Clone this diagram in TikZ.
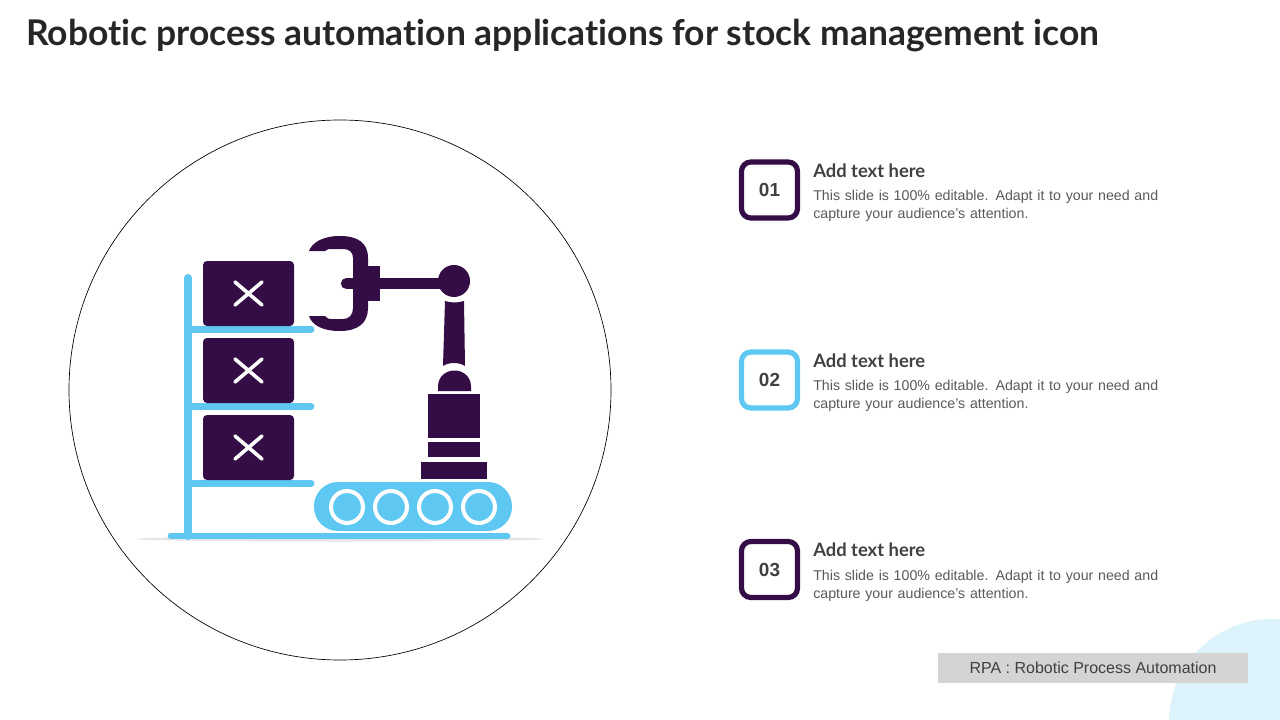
\documentclass[tikz,border=0pt]{standalone}
\usepackage{fontspec}
\setmainfont{Liberation Sans}
\newfontfamily\headfont[Ligatures=CommonOff]{Lato}
\definecolor{rpadark}{HTML}{340C46}
\definecolor{rpablue}{HTML}{5EC8F2}
\definecolor{rpapale}{HTML}{DDF3FC}
\definecolor{rpagrey}{HTML}{D4D4D4}
\definecolor{rpatext}{HTML}{595959}
\definecolor{rpahead}{HTML}{404040}
\begin{document}
\begin{tikzpicture}[x=.75pt, y=-.75pt,
  every node/.style = {align=left, inner sep=0pt},
  dark/.style = {fill=rpadark},
  shelf/.style = {draw=rpablue, line width=5.2pt, line cap=round},
  crate/.style = {fill=rpadark, rounded corners=3pt},
  cross/.style = {draw=white, line width=2.7pt, line cap=round},
  numbox/.style = {draw, line width=3.9pt, rounded corners=7pt, minimum size=42pt,
    font=\bfseries\fontsize{14.2}{16}\selectfont, text=rpahead, align=center},
  itemhead/.style = {font=\headfont\bfseries\fontsize{13.8}{16}\selectfont, text=rpahead, anchor=west},
  itembody/.style = {font=\fontsize{10.65}{13.5}\selectfont, text=rpatext, anchor=north west, text width=270pt}]
  \useasboundingbox (0,0) rectangle (1280,720);
  \begin{scope}
    \clip (0,0) rectangle (1280,720);
    \fill [rpapale] (1272,722) circle [radius=103];
  \end{scope}
  \node [anchor=west, font=\headfont\bfseries\fontsize{26.57}{30}\selectfont, text=black!85] (title) at (26,35.5)
    {Robotic process automation applications for stock management icon};
  \draw [black, line width=.5pt] (340,390) circle [x radius=271, y radius=270];
  \fill [black!10] (340,539) ellipse [x radius=204, y radius=2.5];
  % shelf
  \draw [shelf, line width=6pt] (188,278) -- (188,536);
  \foreach \y in {329.5, 406.5, 483.5}
    \draw [shelf] (188,\y) -- (311,\y);
  \draw [shelf] (171,536) -- (507,536);
  \foreach \y in {261, 338, 415} {
    \fill [crate] (203,\y) rectangle (294,\y+65);
    \draw [cross] (235,\y+21) -- (262,\y+44) (262,\y+21) -- (235,\y+44);
  }
  % gripper
  \fill [dark] (309,251) .. controls (312,243) and (322,236) .. (340,236)
    .. controls (358,236) and (368,243) .. (368,258) -- (368,308)
    .. controls (368,323) and (358,331) .. (340,331)
    .. controls (322,331) and (312,325) .. (309,316) -- (325,316)
    .. controls (328,319) and (329,319) .. (331,319) -- (343,319)
    .. controls (349,319) and (353,315) .. (353,308) -- (353,258)
    .. controls (353,252) and (349,249) .. (343,249) -- (331,249)
    .. controls (329,249) and (328,249) .. (325,251) -- cycle;
  \fill [dark] (363,266) rectangle (380,301);
  \draw [rpadark, line width=8.5pt, line cap=round] (346.5,283.5) -- (450,283.5);
  \fill [dark] (454,281) circle [radius=16];
  % arm and column
  \fill [dark] (445,301) .. controls (451,303) and (458,303) .. (464,301) -- (465,366)
    .. controls (459,362) and (449,362) .. (443,366) -- cycle;
  \fill [dark] (438,391) -- (438,387) .. controls (438,365) and (471,365) .. (471,387) -- (471,391) -- cycle;
  \fill [dark] (428,394) rectangle (480,438);
  \fill [dark] (428,442) rectangle (480,457);
  \fill [dark] (421,462) rectangle (487,479);
  % conveyor
  \fill [rpablue, rounded corners=18pt] (314,482) rectangle (512,531);
  \foreach \x in {347, 391, 435, 479}
    \draw [white, line width=3pt, fill=rpablue] (\x,507) circle [radius=16];
  % items
  \foreach \y/\num/\col in {190/01/rpadark, 380/02/rpablue, 569.5/03/rpadark} {
    \node [numbox, draw=\col] (num\num) at (769.5,\y) {\num};
    \node [itemhead] (head\num) at (813,\y-19.5) {Add text here};
    \node [itembody] (body\num) at (813,\y) {This slide is 100\% editable. Adapt it to your need and\\capture your audience's attention.};
  }
  \node [fill=rpagrey, minimum width=232.5pt, minimum height=22.5pt, align=center, text=rpahead,
    font=\fontsize{12}{14}\selectfont] (legend) at (1093,668) {RPA : Robotic Process Automation};
\end{tikzpicture}
\end{document}
